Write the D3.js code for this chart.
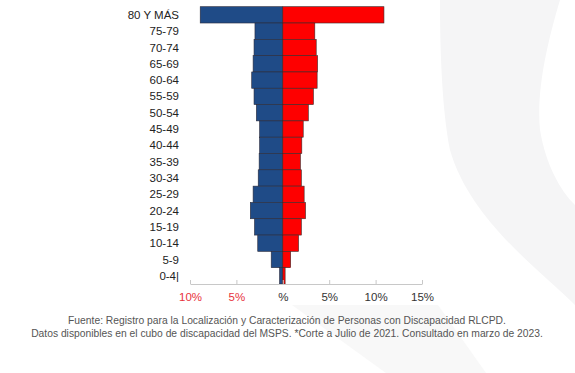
<!DOCTYPE html>
<html>
<head>
<meta charset="utf-8">
<script src="https://cdn.jsdelivr.net/npm/d3@7"></script>
<style>
  body { margin: 0; background: #fff; }
  text { font-family: "Liberation Sans", Arial, sans-serif; }
</style>
</head>
<body>
<div id="chart"></div>
<script>
// grupos de edad, de arriba hacia abajo
var ageGroups = ["80 Y MÁS", "75-79", "70-74", "65-69", "60-64", "55-59", "50-54", "45-49",
                 "40-44", "35-39", "30-34", "25-29", "20-24", "15-19", "10-14", "5-9", "0-4|"];
// % hombres (izquierda) y mujeres (derecha)
var menPct =   [8.9, 3.0, 3.1, 3.2, 3.35, 3.1, 2.85, 2.5, 2.5, 2.55, 2.65, 3.2, 3.5, 3.05, 2.7, 1.25, 0.35];
var womenPct = [10.9, 3.45, 3.6, 3.75, 3.7, 3.3, 2.75, 2.2, 2.05, 1.9, 2.0, 2.3, 2.45, 2.0, 1.7, 0.85, 0.25];
var tickValues = [-10, -5, 0, 5, 10, 15];
var tickLabels = ["10%", "5%", "%", "5%", "10%", "15%"];
var notes = [
  "Fuente: Registro para la Localización y Caracterización de Personas con Discapacidad RLCPD.",
  "Datos disponibles en el cubo de discapacidad del MSPS. *Corte a Julio de 2021. Consultado en marzo de 2023."
];

var width = 575, height = 373;

var svg = d3.select("#chart").append("svg")
    .attr("width", width)
    .attr("height", height);

// fondo decorativo (muy tenue)
svg.append("path")
    .attr("d", "M440,0 L560,0 C548,40 536,90 540,130 C546,165 560,190 575,205 L575,305 C540,270 470,220 450,150 C442,110 440,50 440,0 Z")
    .attr("fill", "#f5f5f6");
svg.append("path")
    .attr("d", "M292,305 L438,305 L486,373 L386,373 Z")
    .attr("fill", "#f8f8f8");

var xScale = d3.scaleLinear().domain([-10, 15]).range([190, 422]);
var yScale = d3.scaleBand().domain(ageGroups).range([6.7, 284]).padding(0);

var rows = ageGroups.map(function(g, i) {
    return { group: g, men: menPct[i], women: womenPct[i] };
});

// hombres
svg.append("g").selectAll("rect")
    .data(rows)
    .enter().append("rect")
    .attr("x", function(d) { return xScale(-d.men); })
    .attr("y", function(d) { return yScale(d.group); })
    .attr("width", function(d) { return xScale(0) - xScale(-d.men); })
    .attr("height", yScale.bandwidth())
    .attr("fill", "#1f4b87")
    .attr("stroke", "#2a2a3a")
    .attr("stroke-width", 0.6);

// mujeres
svg.append("g").selectAll("rect")
    .data(rows)
    .enter().append("rect")
    .attr("x", xScale(0))
    .attr("y", function(d) { return yScale(d.group); })
    .attr("width", function(d) { return xScale(d.women) - xScale(0); })
    .attr("height", yScale.bandwidth())
    .attr("fill", "#fe0000")
    .attr("stroke", "#3a2a2a")
    .attr("stroke-width", 0.6);

// etiquetas de edad
svg.append("g").selectAll("text")
    .data(ageGroups)
    .enter().append("text")
    .attr("x", 179)
    .attr("y", function(d) { return yScale(d) + yScale.bandwidth() / 2; })
    .attr("dy", "0.35em")
    .attr("text-anchor", "end")
    .attr("font-size", "11.5px")
    .attr("fill", "#222")
    .text(function(d) { return d; });

// eje x
var xAxis = d3.axisBottom(xScale)
    .tickValues(tickValues)
    .tickSizeInner(-4)
    .tickSizeOuter(0)
    .tickPadding(9)
    .tickFormat(function(d, i) { return tickLabels[i]; });

var gx = svg.append("g")
    .attr("transform", "translate(0,284)")
    .call(xAxis);
gx.select(".domain").attr("stroke", "#c8c8c8");
gx.selectAll(".tick line").attr("stroke", "#c8c8c8");
gx.selectAll(".tick text")
    .attr("font-size", "11.5px")
    .attr("font-family", "Liberation Sans, Arial, sans-serif")
    .attr("fill", function(d) { return d < 0 ? "#e8323c" : "#333"; });

// nota al pie
svg.append("g").selectAll("text")
    .data(notes)
    .enter().append("text")
    .attr("x", 287)
    .attr("y", function(d, i) { return 324 + i * 12.7; })
    .attr("text-anchor", "middle")
    .attr("font-size", "10.3px")
    .attr("fill", "#555")
    .text(function(d) { return d; });
</script>
</body>
</html>
